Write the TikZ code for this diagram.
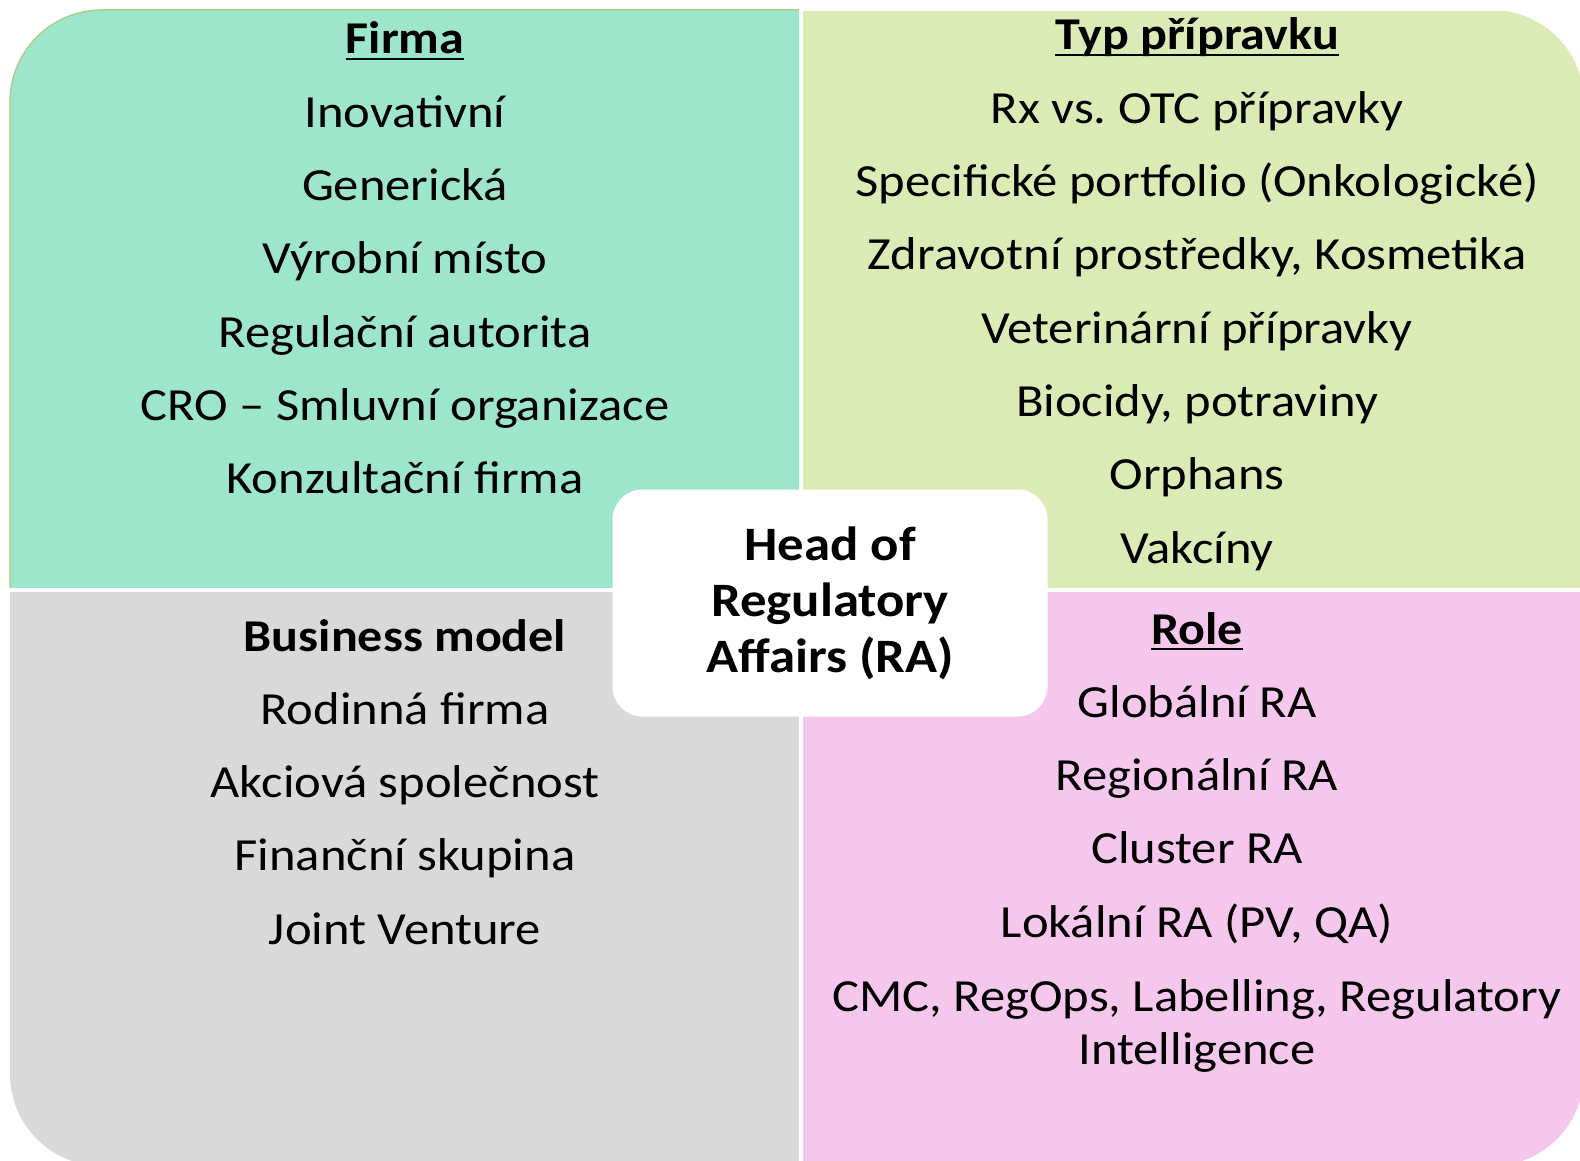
\documentclass[tikz,border=0pt]{standalone}
\usepackage{fontspec}
\setmainfont{Carlito}[FakeStretch=1.1]
\usetikzlibrary{positioning}
\frenchspacing

\definecolor{firmafill}{HTML}{9DE6CB}
\definecolor{firmaline}{HTML}{A9D18E}
\definecolor{typfill}{HTML}{DBEBB6}
\definecolor{businessfill}{HTML}{D9D9D9}
\definecolor{rolefill}{HTML}{F5C7EC}

\begin{document}
\begin{tikzpicture}[
    x=1pt, y=-1pt,
    item/.style={anchor=base, inner sep=0pt, font=\fontsize{46}{53}\selectfont},
    head/.style={item, font=\fontsize{45.5}{53}\selectfont\bfseries},
    headline/.style={line width=2.5pt},
    centre/.style={rectangle, fill=white, rounded corners=30pt, minimum width=435pt, minimum height=227pt, align=center, font=\fontsize{48}{56}\selectfont\bfseries}
]
    \useasboundingbox (0,0) rectangle (1580,1161);

    % Quadrants
    \begin{scope}
        \clip[rounded corners=92pt] (10,10) rectangle (1584,1166);
        \fill[firmafill] (10,10) rectangle (799,588);
        \fill[typfill] (803,11) rectangle (1584,588);
        \fill[businessfill] (10,592) rectangle (799,1166);
        \fill[rolefill] (803,592) rectangle (1584,1166);
    \end{scope}
    \draw[firmaline, line width=1.5pt, rounded corners=92pt] (10,588) -- (10,10) -- (799,10);

    % Firma
    \node[head] (firma) at (405,54) {Firma};
    \draw[headline] ([yshift=-5pt]firma.base west) -- ([yshift=-5pt]firma.base east);
    \foreach \txt [count=\i] in {Inovativní, Generická, Výrobní místo, Regulační autorita, CRO – Smluvní organizace, Konzultační firma}
        \node[item] (firma-\i) at (405,{54+73.3*\i}) {\txt};

    % Typ pripravku
    \node[head] (typ) at (1197,50) {Typ přípravku};
    \draw[headline] ([yshift=-5pt]typ.base west) -- ([yshift=-5pt]typ.base east);
    \foreach \txt [count=\i] in {Rx vs. OTC přípravky, Specifické portfolio (Onkologické), {Zdravotní prostředky, Kosmetika}, Veterinární přípravky, {Biocidy, potraviny}, Orphans, Vakcíny}
        \node[item] (typ-\i) at (1197,{50+73.3*\i}) {\txt};

    % Business model
    \node[head] (business) at (405,651) {Business model};
    \foreach \txt [count=\i] in {Rodinná firma, Akciová společnost, Finanční skupina, Joint Venture}
        \node[item] (business-\i) at (405,{651+73.3*\i}) {\txt};

    % Role
    \node[head] (role) at (1197,644) {Role};
    \draw[headline] ([yshift=-5pt]role.base west) -- ([yshift=-5pt]role.base east);
    \foreach \txt [count=\i] in {Globální RA, Regionální RA, Cluster RA, {Lokální RA (PV, QA)}}
        \node[item] (role-\i) at (1197,{644+73.3*\i}) {\txt};
    \node[item, align=center] (role-5) at (1197,1064) {CMC, RegOps, Labelling, Regulatory\\Intelligence};

    % Centre
    \node[centre] (head) at (830,603) {Head of\\Regulatory\\Affairs (RA)};
\end{tikzpicture}
\end{document}
